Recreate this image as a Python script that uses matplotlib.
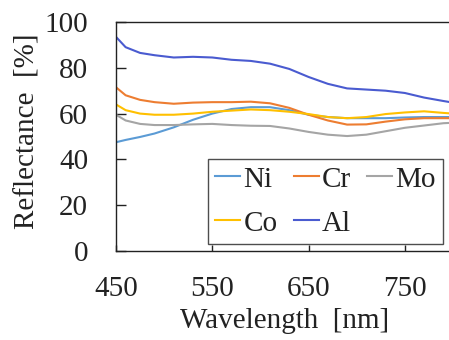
import matplotlib
matplotlib.use("Agg")
import matplotlib.pyplot as plt

wavelength = [450, 460, 475, 490, 510, 530, 550, 570, 590, 610, 630, 650, 670, 690, 710, 730, 750, 770, 790, 800]
ni = [47.5, 48.5, 49.8, 51.3, 54.0, 57.3, 60.0, 62.0, 62.8, 62.8, 61.5, 59.5, 58.5, 58.0, 58.0, 58.0, 58.3, 58.5, 58.5, 58.5]
cr = [71.5, 68.0, 66.0, 65.0, 64.3, 64.8, 65.0, 65.0, 65.2, 64.5, 62.5, 59.5, 57.0, 55.2, 55.3, 56.5, 57.5, 58.0, 58.0, 58.0]
mo = [59.5, 57.0, 55.5, 55.0, 55.0, 55.3, 55.5, 55.0, 54.7, 54.6, 53.5, 52.0, 50.8, 50.2, 50.8, 52.3, 53.8, 54.8, 55.8, 56.0]
co = [64.0, 61.5, 60.0, 59.5, 59.5, 60.0, 60.8, 61.3, 61.8, 61.5, 60.8, 59.8, 58.5, 58.0, 58.5, 59.8, 60.5, 61.0, 60.3, 60.0]
al = [93.5, 89.0, 86.5, 85.5, 84.5, 84.8, 84.5, 83.5, 83.0, 81.8, 79.5, 76.0, 73.0, 71.0, 70.5, 70.0, 69.0, 67.0, 65.5, 64.8]
labels = ["Ni", "Cr", "Mo", "Co", "Al"]
colors = ["#5B9BD5", "#ED7D31", "#A5A5A5", "#FFC000", "#4A5BD0"]
xticks = [450, 550, 650, 750]
yticks = [0, 20, 40, 60, 80, 100]

plt.rcParams['font.family'] = ['Liberation Serif', 'DejaVu Serif']
fig = plt.figure(figsize=(4.49, 3.40), dpi=100)
ax = fig.add_axes([116/449, 89/340, 337/449, 229/340])

series = [ni, cr, mo, co, al]
lines = {}
for lab, ys, c in zip(labels, series, colors):
    ln, = ax.plot(wavelength, ys, color=c, lw=1.5, label=lab)
    lines[lab] = ln

FS = 21
ax.set_xlim(450, 800)
ax.set_ylim(0, 100)
ax.set_xticks(xticks)
ax.set_yticks(yticks)
ax.tick_params(direction='in', width=1, labelsize=FS, colors='#222222')
ax.tick_params(axis='y', pad=20, length=7)
ax.tick_params(axis='x', pad=18, length=4.5)
for s in ax.spines.values():
    s.set_linewidth(1.0)
    s.set_color('#222222')
ax.set_xlabel("Wavelength  [nm]", fontsize=FS, labelpad=4, color='#222222')
ax.set_ylabel("Reflectance  [%]", fontsize=FS, color='#222222')
ax.yaxis.set_label_coords(-0.2226, 0.524)

order = ["Ni", "Co", "Cr", "Al", "Mo"]
leg = fig.legend([lines[k] for k in order], order, ncol=3, loc='upper left',
                 bbox_to_anchor=(208/449, 1 - 159/340),
                 fontsize=FS, handlelength=0.85, handletextpad=0.12,
                 columnspacing=0.55, frameon=True, fancybox=False,
                 edgecolor='#222222', borderaxespad=0, borderpad=0.25,
                 labelspacing=0.6)
leg.get_frame().set_linewidth(1.0)
for t in leg.get_texts():
    t.set_color('#222222')

fig.savefig("out.png", dpi=100)
